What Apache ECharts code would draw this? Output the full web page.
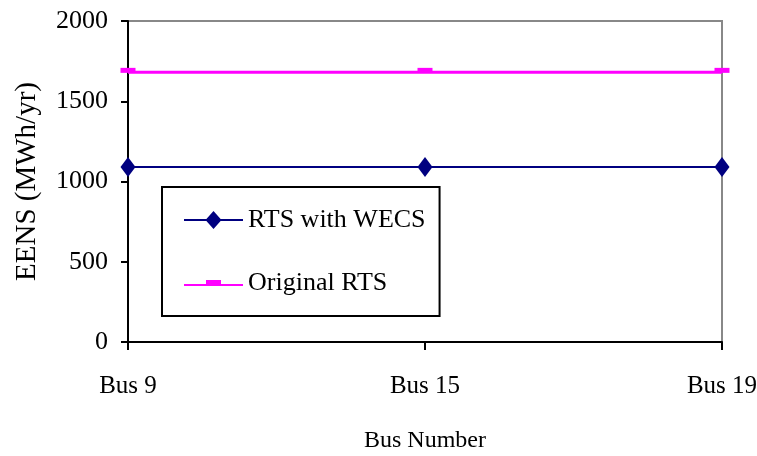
<!DOCTYPE html>
<html>
<head>
<meta charset="utf-8">
<script src="https://cdn.jsdelivr.net/npm/echarts@6/dist/echarts.min.js"></script>
<style>
  html, body { margin: 0; padding: 0; background: #fff; }
  #chart { width: 757px; height: 456px; }
</style>
</head>
<body>
<div id="chart"></div>
<script>
// data
var buses = ['Bus 9', 'Bus 15', 'Bus 19'];
var withWecs = [1090, 1090, 1090];
var originalRts = [1680, 1680, 1680];
var yTicks = [0, 500, 1000, 1500, 2000];

var font = 'Liberation Serif';
var myChart = echarts.init(document.getElementById('chart'));

// legend keys: a line with the marker on it (59 x 18 box)
var keyWecs = 'path://M0,8 L59,8 L59,10 L0,10 Z M29.5,0 L37.5,9 L29.5,18 L21.5,9 Z';
var keyOrig = 'path://M0,0 L0.01,0 L0,0.01 Z M59,18 L58.99,18 L59,17.99 Z ' +
    'M0,10 L59,10 L59,12 L0,12 Z M22,6 L37,6 L37,11 L22,11 Z';

var option = {
    animation: false,
    textStyle: { fontFamily: font, color: '#000' },
    grid: {
        left: 128, right: 35, top: 21, bottom: 114,
        outerBoundsMode: 'none',
        containLabel: false,
        show: true, borderColor: '#888', borderWidth: 2, backgroundColor: '#fff'
    },
    legend: {
        orient: 'vertical',
        left: 162, top: 187,
        padding: [20, 14, 20, 22],
        itemGap: 37,
        itemWidth: 59,
        itemHeight: 18,
        backgroundColor: '#fff',
        borderColor: '#000',
        borderWidth: 2,
        textStyle: { fontFamily: font, fontSize: 26, lineHeight: 26, color: '#000' },
        data: [
            { name: 'RTS with WECS', icon: keyWecs },
            { name: 'Original RTS', icon: keyOrig }
        ]
    },
    xAxis: {
        type: 'category',
        data: buses,
        boundaryGap: false,
        name: 'Bus Number',
        nameLocation: 'middle',
        nameGap: 87,
        nameTextStyle: { fontFamily: font, fontSize: 24, color: '#000' },
        axisLine: { lineStyle: { color: '#000', width: 2 } },
        axisTick: { length: 8, lineStyle: { color: '#000', width: 2 } },
        axisLabel: { fontFamily: font, fontSize: 25, color: '#000', margin: 32 },
        splitLine: { show: false }
    },
    yAxis: {
        type: 'value',
        min: yTicks[0],
        max: yTicks[yTicks.length - 1],
        interval: 500,
        name: 'EENS (MWh/yr)',
        nameLocation: 'middle',
        nameRotate: 90,
        nameGap: 86,
        nameTextStyle: { fontFamily: font, fontSize: 29, color: '#000' },
        axisLine: { show: true, lineStyle: { color: '#000', width: 2 } },
        axisTick: { show: true, length: 7, lineStyle: { color: '#000', width: 2 } },
        axisLabel: {
            fontFamily: font, fontSize: 26, color: '#000', margin: 20,
            formatter: function (v) { return String(v); }
        },
        splitLine: { show: false }
    },
    series: [
        {
            name: 'RTS with WECS',
            type: 'line',
            data: withWecs,
            color: '#000080',
            symbol: 'diamond',
            symbolSize: [15, 20],
            lineStyle: { color: '#000080', width: 2 },
            itemStyle: { color: '#000080' },
            z: 3
        },
        {
            name: 'Original RTS',
            type: 'line',
            data: originalRts,
            color: '#ff00ff',
            symbol: 'rect',
            symbolSize: [15, 5],
            symbolOffset: [0, -2],
            lineStyle: { color: '#ff00ff', width: 3 },
            itemStyle: { color: '#ff00ff' },
            z: 3
        }
    ]
};

myChart.setOption(option);
</script>
</body>
</html>
